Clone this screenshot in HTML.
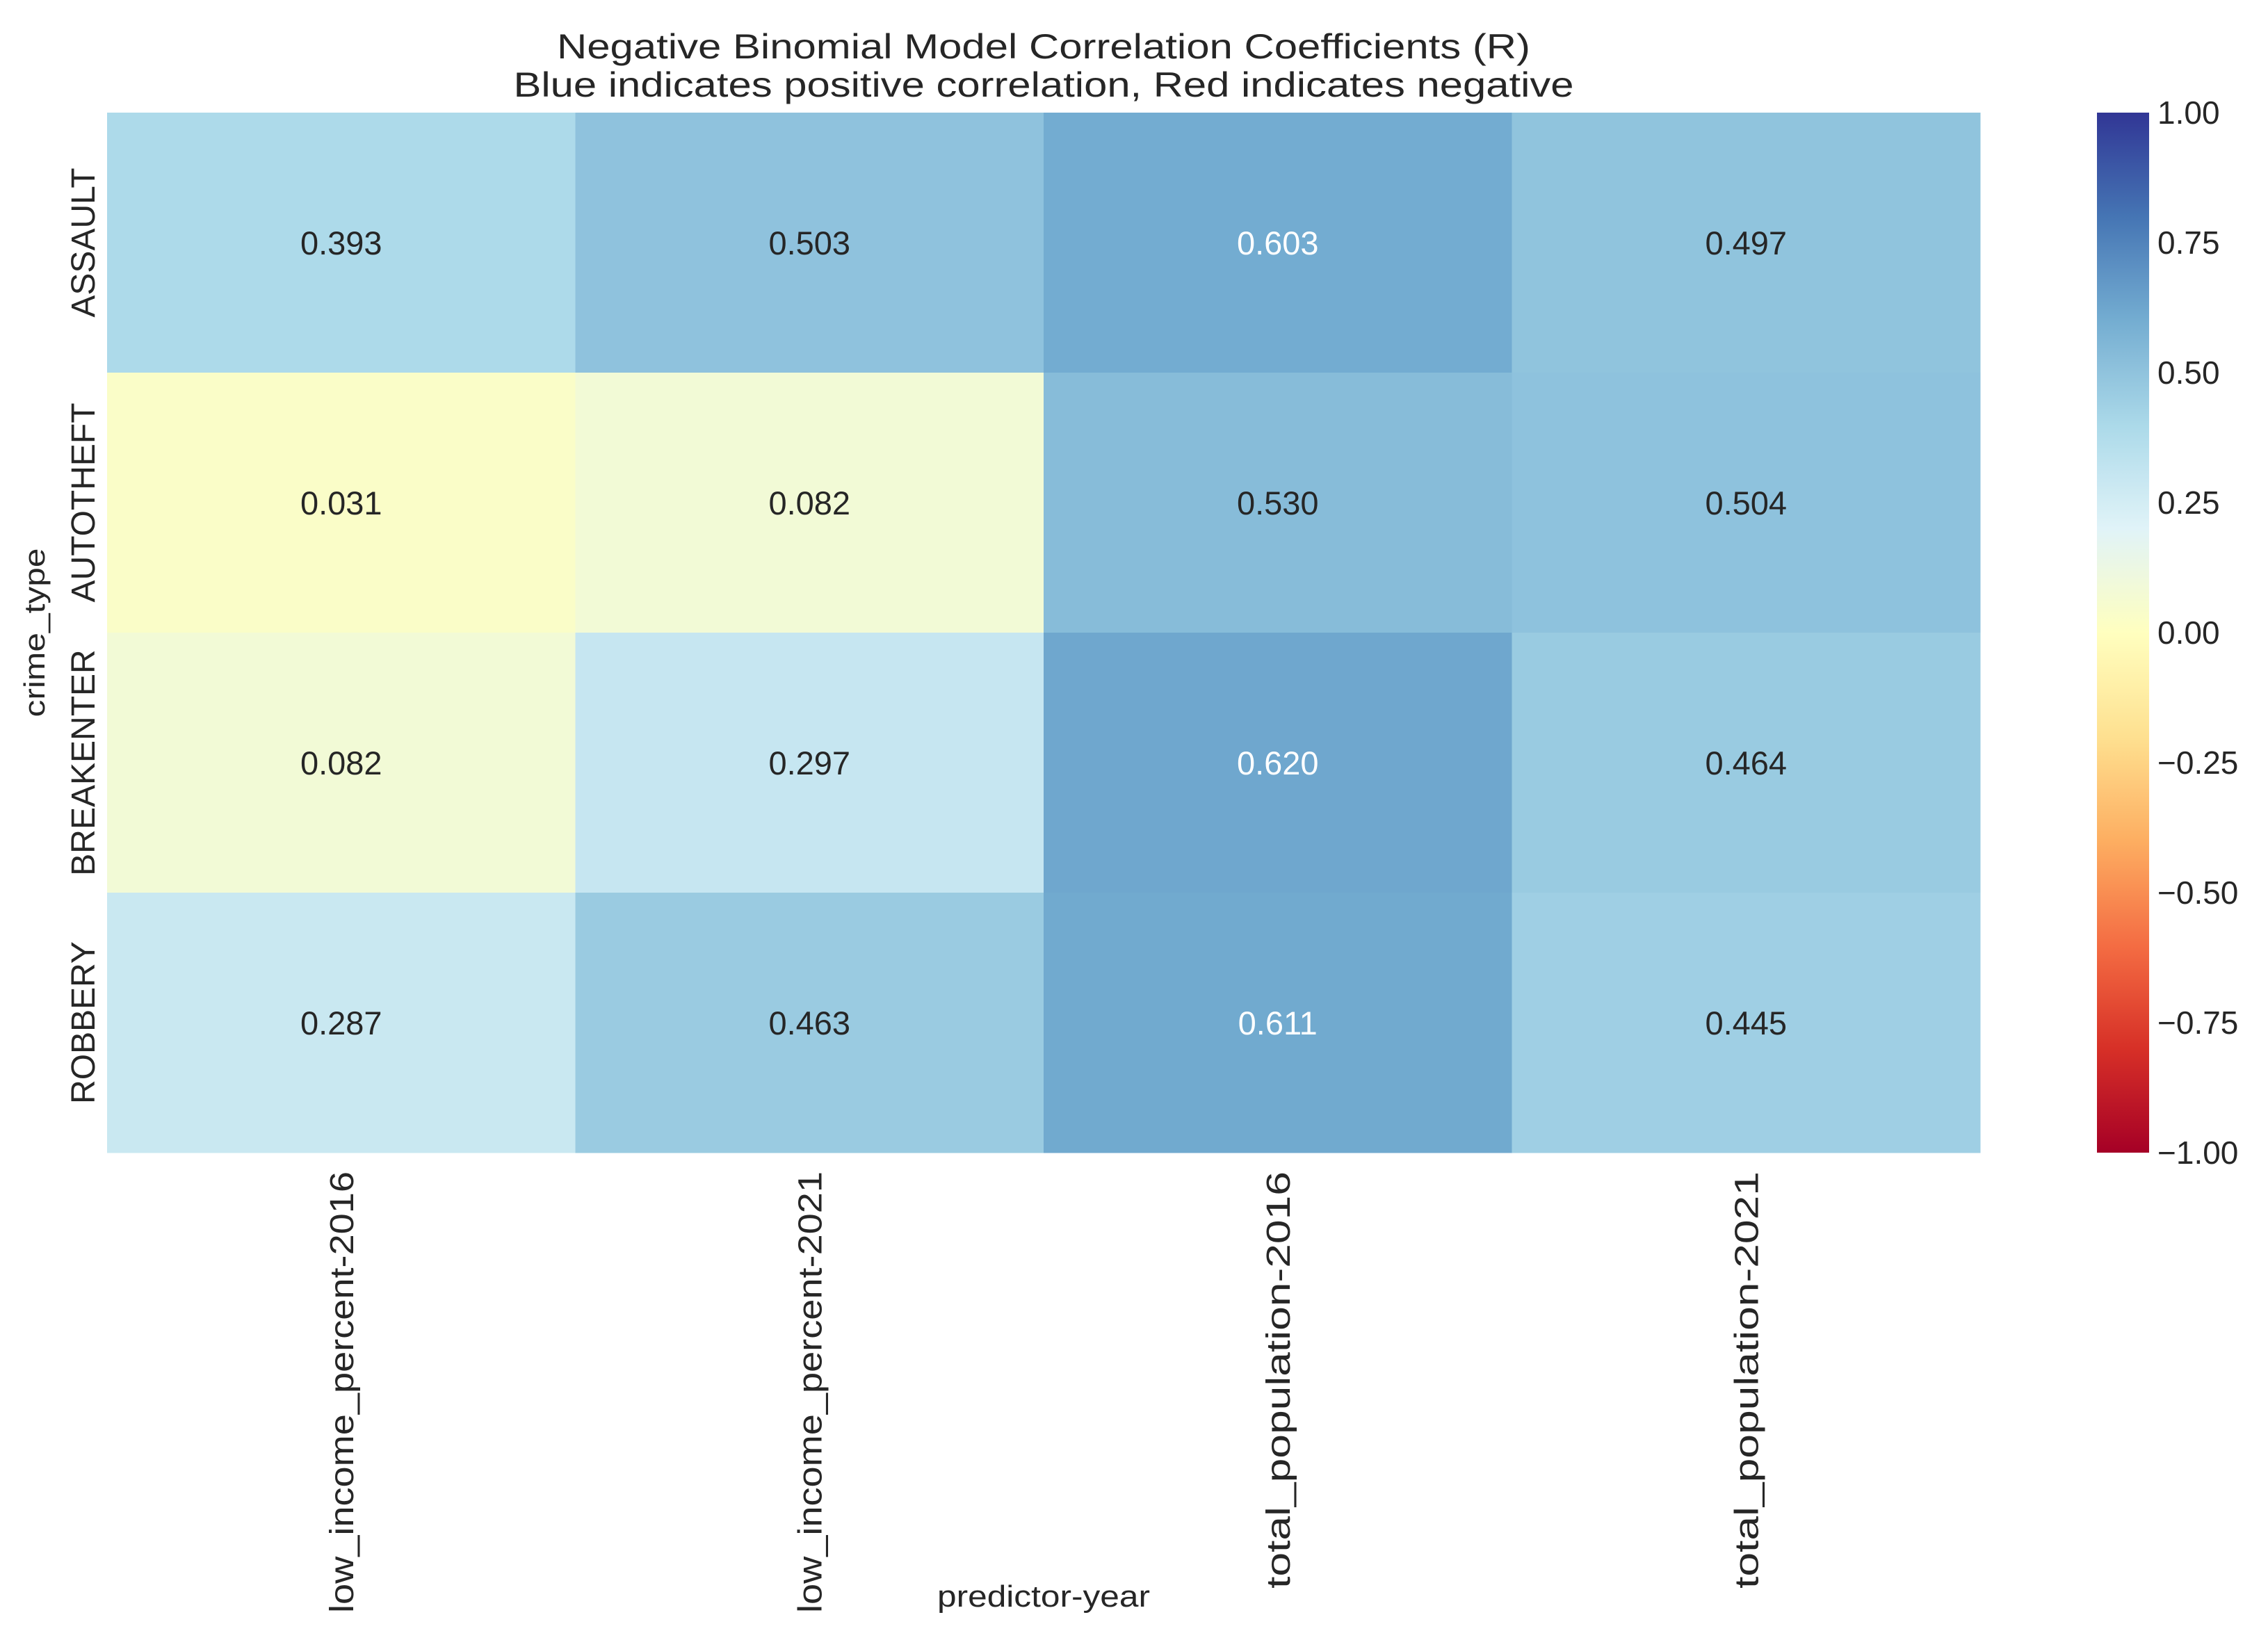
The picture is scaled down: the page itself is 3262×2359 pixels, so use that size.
<!DOCTYPE html>
<html><head><meta charset="utf-8"><style>
html,body{margin:0;padding:0;background:#fff;}
svg text{font-family:"Liberation Sans",sans-serif;fill:#262626;}
</style></head><body>
<svg id="chart" xmlns="http://www.w3.org/2000/svg" width="3262" height="2354" viewBox="0 0 3262 2354">
<rect width="3262" height="2354" fill="#fff"/>
<text x="1501" y="84" font-size="50" text-anchor="middle" textLength="1400" lengthAdjust="spacingAndGlyphs">Negative Binomial Model Correlation Coefficients (R)</text>
<text x="1501" y="139" font-size="50" text-anchor="middle" textLength="1525" lengthAdjust="spacingAndGlyphs">Blue indicates positive correlation, Red indicates negative</text>
<g id="cells"></g>
<g id="annots"></g>
<g id="xticks"></g>
<g id="yticks"></g>
<defs><linearGradient id="cbgrad" x1="0" y1="1" x2="0" y2="0"></linearGradient></defs>
<rect x="3016" y="162" width="75" height="1496" fill="url(#cbgrad)"/>
<g id="cbticks"></g>
<text transform="translate(64,910) rotate(-90)" font-size="42" text-anchor="middle" textLength="243" lengthAdjust="spacingAndGlyphs">crime_type</text>
<text x="1501" y="2311" font-size="44" text-anchor="middle" textLength="306" lengthAdjust="spacingAndGlyphs">predictor-year</text>
</svg>
<script>
const rows = ["ASSAULT","AUTOTHEFT","BREAKENTER","ROBBERY"];
const cols = ["low_income_percent-2016","low_income_percent-2021","total_population-2016","total_population-2021"];
const row0 = [0.393,0.503,0.603,0.497];
const row1 = [0.031,0.082,0.530,0.504];
const row2 = [0.082,0.297,0.620,0.464];
const row3 = [0.287,0.463,0.611,0.445];
const cbTicks = [-1,-0.75,-0.5,-0.25,0,0.25,0.5,0.75,1];
const values = [row0,row1,row2,row3];

const NS="http://www.w3.org/2000/svg";
const X0=154,X1=2848,Y0=162,Y1=1658;
const cw=(X1-X0)/cols.length, rh=(Y1-Y0)/rows.length;
const xPos=j=>X0+j*cw, yPos=i=>Y0+i*rh;
const cbY=v=>Y1-(v+1)/2*(Y1-Y0);
const stops=["#a50026","#d73027","#f46d43","#fdae61","#fee090","#ffffbf","#e0f3f8","#abd9e9","#74add1","#4575b4","#313695"];
function hex(h){return [1,3,5].map(k=>parseInt(h.substr(k,2),16));}
function cmap(v){let t=(v+1)/2*10;t=Math.max(0,Math.min(10,t));const i=Math.min(9,Math.floor(t)),f=t-i;
 const a=hex(stops[i]),b=hex(stops[i+1]);return a.map((c,k)=>Math.round(c+(b[k]-c)*f));}
function lum(c){const l=c.map(x=>{x/=255;return x<=0.03928?x/12.92:Math.pow((x+0.055)/1.055,2.4);});return 0.2126*l[0]+0.7152*l[1]+0.0722*l[2];}
function mk(t,a,p){const e=document.createElementNS(NS,t);for(const k in a)e.setAttribute(k,a[k]);p.appendChild(e);return e;}
const gC=document.getElementById('cells'),gA=document.getElementById('annots'),gX=document.getElementById('xticks'),gY=document.getElementById('yticks'),gT=document.getElementById('cbticks');
values.forEach((r,i)=>r.forEach((v,j)=>{
 const c=cmap(v);
 const rect=mk('rect',{x:xPos(j),y:yPos(i),width:cw+0.5,height:rh+0.5,fill:`rgb(${c})`},gC);
 
 
 const t=mk('text',{x:xPos(j)+cw/2,y:yPos(i)+rh/2+17,'font-size':47,'text-anchor':'middle'},gA);
 
 
 t.style.fill=lum(c)>0.408?'#262626':'#ffffff';
 t.textContent=v.toFixed(3);
}));
cols.forEach((c,j)=>{
 const len=c.startsWith('low')?635:600;
 const t=mk('text',{transform:`translate(${xPos(j)+cw/2+17},1685) rotate(-90)`,'font-size':48,'text-anchor':'end',textLength:len,lengthAdjust:'spacingAndGlyphs'},gX);
 
 
 t.textContent=c;
});
rows.forEach((r,i)=>{
 const t=mk('text',{transform:`translate(136,${yPos(i)+rh/2}) rotate(-90)`,'font-size':48,'text-anchor':'middle'},gY);
 
 
 t.textContent=r;
});
const grad=document.getElementById('cbgrad');
for(let k=0;k<=40;k++){const v=-1+k/20;mk('stop',{offset:(k/40),'stop-color':`rgb(${cmap(v)})`},grad);}
cbTicks.forEach(v=>{
 const t=mk('text',{x:3103,y:cbY(v)+16,'font-size':46},gT);
 
 
 t.textContent=(v<0?'\u2212':'')+Math.abs(v).toFixed(2);
});
</script>
</body></html>
